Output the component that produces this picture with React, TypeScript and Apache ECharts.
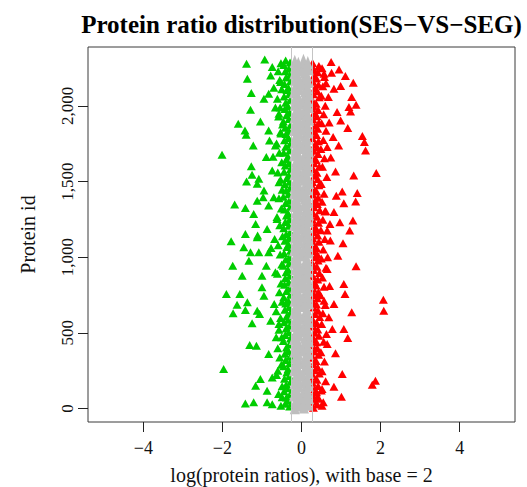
import React, { useEffect, useRef } from "react";
import * as echarts from "echarts";

const TITLE = "Protein ratio distribution(SES\u2212VS\u2212SEG)";
const X_NAME = "log(protein ratios), with base = 2";
const Y_NAME = "Protein id";
const X_TICKS = [-4, -2, 0, 2, 4];
const Y_TICKS = [0, 500, 1000, 1500, 2000];
const THRESHOLDS = [-0.263, 0.263];

// down-regulated proteins (green)
const greenOutliers: number[][] = [
  [-1.39, 2279], [-0.93, 2308], [-1.37, 2180], [-0.74, 2257], [-0.78, 2202], [-1.27, 2085], [-0.83, 2081],
  [-0.95, 2047], [-0.53, 2158], [-1.29, 1975], [-1.6, 1882], [-1.04, 1897], [-1.43, 1838], [-1.4, 1809],
  [-0.83, 1838], [-1.22, 1738], [-2.01, 1677], [-0.81, 1772], [-0.89, 1662], [-1.27, 1602], [-1.25, 1545],
  [-1.39, 1500], [-1.08, 1518], [-1.12, 1485], [-0.74, 1573], [-0.95, 1441], [-1.69, 1348], [-1.42, 1326],
  [-1.12, 1374], [-0.97, 1397], [-1.21, 1286], [-0.83, 1341], [-1.16, 1220], [-0.87, 1187], [-1.42, 1154],
  [-1.11, 1143], [-0.62, 1253], [-0.7, 1397], [-0.57, 1948], [-0.53, 1826], [-0.66, 1738], [-0.57, 1496],
  [-1.78, 1105], [-1.12, 1132], [-1.46, 1066], [-1.29, 1033], [-1.08, 1033], [-0.83, 1033], [-0.77, 1061],
  [-1.74, 944], [-1.33, 977], [-0.89, 944], [-0.66, 900], [-1.5, 878], [-1.0, 878], [-1.9, 757], [-1.56, 757],
  [-1.0, 801], [-0.95, 745], [-1.63, 686], [-1.37, 702], [-1.73, 629], [-1.42, 651], [-1.12, 646], [-1.06, 624],
  [-0.78, 580], [-1.25, 563], [-0.57, 558], [-1.31, 419], [-1.14, 414], [-0.83, 359], [-1.97, 260], [-0.6, 249],
  [-1.04, 194], [-1.16, 150], [-0.74, 205], [-0.87, 117], [-1.42, 33], [-1.21, 40], [-0.87, 40], [-0.74, 28],
  [-0.49, 73], [-0.7, 2120], [-0.66, 1990], [-0.72, 1665], [-0.68, 1120], [-0.64, 470], [-0.69, 690],
];
const greenInner: number[][] = [
  [-0.3, 12], [-0.33, 51], [-0.29, 94], [-0.32, 133], [-0.28, 176], [-0.31, 215], [-0.34, 259], [-0.3, 298],
  [-0.29, 341], [-0.33, 380], [-0.31, 423], [-0.28, 462], [-0.32, 505], [-0.3, 546], [-0.34, 587], [-0.29, 628],
  [-0.31, 670], [-0.33, 711], [-0.28, 752], [-0.3, 794], [-0.32, 835], [-0.29, 877], [-0.34, 918], [-0.31, 960],
  [-0.3, 1001], [-0.28, 1042], [-0.33, 1084], [-0.31, 1125], [-0.29, 1167], [-0.32, 1208], [-0.3, 1250],
  [-0.34, 1291], [-0.28, 1333], [-0.31, 1374], [-0.33, 1416], [-0.29, 1457], [-0.3, 1499], [-0.32, 1540],
  [-0.28, 1582], [-0.31, 1623], [-0.34, 1665], [-0.3, 1706], [-0.29, 1748], [-0.33, 1789], [-0.31, 1831],
  [-0.28, 1872], [-0.32, 1914], [-0.3, 1955], [-0.34, 1997], [-0.29, 2038], [-0.31, 2080], [-0.33, 2121],
  [-0.28, 2163], [-0.3, 2204], [-0.32, 2246], [-0.29, 2287],
];
const greenMid: number[][] = [
  [-0.41, 30], [-0.38, 72], [-0.44, 113], [-0.39, 155], [-0.43, 196], [-0.37, 238], [-0.45, 279], [-0.4, 320],
  [-0.42, 362], [-0.38, 403], [-0.46, 445], [-0.41, 486], [-0.39, 528], [-0.44, 569], [-0.37, 611], [-0.42, 652],
  [-0.4, 694], [-0.45, 735], [-0.38, 777], [-0.43, 818], [-0.41, 860], [-0.39, 901], [-0.46, 943], [-0.4, 984],
  [-0.44, 1026], [-0.37, 1067], [-0.42, 1109], [-0.39, 1150], [-0.45, 1192], [-0.41, 1233], [-0.38, 1275],
  [-0.43, 1316], [-0.4, 1358], [-0.46, 1399], [-0.39, 1441], [-0.42, 1482], [-0.37, 1524], [-0.44, 1565],
  [-0.41, 1607], [-0.38, 1648], [-0.45, 1690], [-0.4, 1731], [-0.43, 1773], [-0.39, 1814], [-0.41, 1856],
  [-0.46, 1897], [-0.38, 1939], [-0.42, 1980], [-0.4, 2022], [-0.44, 2063], [-0.37, 2105], [-0.43, 2146],
  [-0.39, 2188], [-0.41, 2229], [-0.45, 2271], [-0.4, 2300],
];
const greenOuter: number[][] = [
  [-0.52, 18], [-0.58, 95], [-0.49, 147], [-0.63, 221], [-0.51, 288], [-0.55, 336], [-0.6, 398], [-0.5, 471],
  [-0.57, 520], [-0.53, 598], [-0.64, 643], [-0.49, 705], [-0.56, 768], [-0.52, 826], [-0.61, 890], [-0.5, 951],
  [-0.54, 1017], [-0.59, 1079], [-0.48, 1138], [-0.55, 1212], [-0.62, 1265], [-0.51, 1322], [-0.57, 1389],
  [-0.49, 1446], [-0.53, 1512], [-0.6, 1560], [-0.5, 1627], [-0.56, 1690], [-0.63, 1752], [-0.52, 1818],
  [-0.48, 1877], [-0.58, 1930], [-0.54, 1990], [-0.61, 2047], [-0.5, 2110], [-0.55, 2171], [-0.59, 2230],
  [-0.52, 2283],
];

// up-regulated proteins (red)
const redOutliers: number[][] = [
  [0.75, 2290], [0.95, 2242], [0.76, 2220], [1.11, 2198], [0.57, 2213], [1.31, 2154], [0.82, 2114], [0.99, 2132],
  [1.27, 2059], [1.2, 1993], [1.38, 2008], [1.24, 1963], [0.9, 1960], [0.99, 1904], [1.17, 1854], [0.8, 1794],
  [0.94, 1738], [1.54, 1801], [1.59, 1761], [1.62, 1705], [0.65, 1728], [0.86, 1566], [1.32, 1540], [1.89, 1556],
  [1.03, 1434], [1.41, 1425], [0.88, 1407], [1.07, 1357], [1.37, 1368], [0.59, 1302], [0.82, 1298], [0.97, 1231],
  [1.3, 1242], [1.22, 1176], [0.72, 1220], [0.65, 1176], [1.05, 1092], [0.92, 1010], [1.38, 940], [0.65, 922],
  [1.07, 823], [1.1, 757], [0.82, 690], [2.07, 719], [2.08, 646], [1.27, 636], [1.07, 525], [1.17, 465],
  [0.78, 525], [0.86, 364], [1.03, 227], [1.87, 183], [1.79, 156], [0.82, 143], [1.01, 77], [0.52, 128],
  [0.52, 17], [0.4, 73], [0.73, 1110], [0.57, 712], [0.69, 602], [0.65, 426], [0.68, 2060], [0.7, 1890],
  [0.62, 2150], [0.74, 1660], [0.66, 1000], [0.71, 810],
];
const redInner: number[][] = [
  [0.3, 5], [0.32, 44], [0.29, 86], [0.33, 127], [0.28, 169], [0.31, 210], [0.34, 252], [0.3, 293], [0.29, 335],
  [0.32, 376], [0.28, 418], [0.31, 459], [0.33, 501], [0.3, 542], [0.29, 584], [0.34, 625], [0.31, 667],
  [0.28, 708], [0.32, 750], [0.3, 791], [0.33, 833], [0.29, 874], [0.31, 916], [0.28, 957], [0.34, 999],
  [0.3, 1040], [0.32, 1082], [0.29, 1123], [0.31, 1165], [0.33, 1206], [0.28, 1248], [0.3, 1289], [0.32, 1331],
  [0.34, 1372], [0.29, 1414], [0.31, 1455], [0.28, 1497], [0.33, 1538], [0.3, 1580], [0.32, 1621], [0.29, 1663],
  [0.31, 1704], [0.34, 1746], [0.28, 1787], [0.3, 1829], [0.33, 1870], [0.29, 1912], [0.32, 1953], [0.31, 1995],
  [0.28, 2036], [0.3, 2078], [0.34, 2119], [0.29, 2161], [0.32, 2202], [0.31, 2244], [0.28, 2285],
];
const redMid: number[][] = [
  [0.4, 25], [0.44, 63], [0.38, 106], [0.42, 148], [0.39, 189], [0.45, 231], [0.41, 272], [0.37, 314],
  [0.43, 355], [0.4, 397], [0.38, 438], [0.44, 480], [0.41, 521], [0.39, 563], [0.46, 604], [0.42, 646],
  [0.38, 687], [0.4, 729], [0.43, 770], [0.37, 812], [0.41, 853], [0.45, 895], [0.39, 936], [0.42, 978],
  [0.4, 1019], [0.38, 1061], [0.44, 1102], [0.41, 1144], [0.37, 1185], [0.43, 1227], [0.39, 1268], [0.46, 1310],
  [0.4, 1351], [0.42, 1393], [0.38, 1434], [0.44, 1476], [0.41, 1517], [0.39, 1559], [0.45, 1600], [0.37, 1642],
  [0.42, 1683], [0.4, 1725], [0.43, 1766], [0.38, 1808], [0.41, 1849], [0.44, 1891], [0.39, 1932], [0.42, 1974],
  [0.37, 2015], [0.45, 2057], [0.4, 2098], [0.43, 2140], [0.38, 2181], [0.41, 2223], [0.44, 2264],
];
const redOuter: number[][] = [
  [0.55, 40], [0.5, 118], [0.61, 180], [0.52, 245], [0.58, 310], [0.49, 372], [0.56, 440], [0.63, 492],
  [0.51, 558], [0.54, 630], [0.6, 684], [0.48, 748], [0.57, 804], [0.53, 866], [0.62, 930], [0.5, 992],
  [0.55, 1050], [0.59, 1120], [0.49, 1178], [0.54, 1248], [0.61, 1306], [0.52, 1366], [0.57, 1420], [0.5, 1484],
  [0.64, 1530], [0.53, 1598], [0.58, 1655], [0.49, 1716], [0.55, 1775], [0.62, 1836], [0.51, 1886], [0.56, 1946],
  [0.6, 2002], [0.5, 2068], [0.54, 2130], [0.58, 2192], [0.52, 2250],
];

// unchanged proteins (gray)
const grayA: number[][] = [
  [-0.17, 4], [-0.15, 47], [-0.19, 88], [-0.16, 131], [-0.18, 170], [-0.14, 214], [-0.19, 255], [-0.16, 297],
  [-0.15, 339], [-0.18, 380], [-0.16, 424], [-0.19, 463], [-0.14, 507], [-0.17, 549], [-0.16, 590], [-0.19, 633],
  [-0.15, 672], [-0.18, 716], [-0.16, 757], [-0.17, 799], [-0.19, 842], [-0.14, 881], [-0.16, 925], [-0.18, 966],
  [-0.15, 1008], [-0.19, 1049], [-0.16, 1092], [-0.17, 1133], [-0.14, 1176], [-0.19, 1216], [-0.16, 1259],
  [-0.15, 1300], [-0.18, 1342], [-0.16, 1385], [-0.19, 1426], [-0.17, 1468], [-0.15, 1509], [-0.18, 1551],
  [-0.16, 1594], [-0.14, 1635], [-0.19, 1677], [-0.16, 1718], [-0.17, 1761], [-0.15, 1802], [-0.19, 1844],
  [-0.16, 1886], [-0.18, 1927], [-0.14, 1970], [-0.17, 2011], [-0.16, 2053], [-0.19, 2094], [-0.15, 2137],
  [-0.16, 2178], [-0.18, 2220], [-0.16, 2262], [-0.17, 2296],
];
const grayB: number[][] = [
  [-0.07, 22], [-0.05, 66], [-0.09, 107], [-0.06, 150], [-0.08, 191], [-0.04, 233], [-0.1, 276], [-0.06, 318],
  [-0.08, 359], [-0.05, 402], [-0.09, 443], [-0.07, 486], [-0.04, 528], [-0.08, 569], [-0.06, 611], [-0.1, 652],
  [-0.05, 695], [-0.07, 737], [-0.09, 778], [-0.06, 820], [-0.08, 862], [-0.04, 903], [-0.07, 946], [-0.1, 987],
  [-0.05, 1029], [-0.08, 1071], [-0.06, 1112], [-0.09, 1155], [-0.07, 1196], [-0.04, 1238], [-0.08, 1280],
  [-0.06, 1321], [-0.1, 1364], [-0.05, 1405], [-0.07, 1447], [-0.09, 1489], [-0.06, 1530], [-0.08, 1573],
  [-0.04, 1614], [-0.07, 1656], [-0.1, 1698], [-0.05, 1739], [-0.08, 1782], [-0.06, 1823], [-0.09, 1865],
  [-0.07, 1907], [-0.04, 1948], [-0.08, 1991], [-0.06, 2032], [-0.1, 2074], [-0.05, 2116], [-0.07, 2157],
  [-0.09, 2199], [-0.06, 2241], [-0.08, 2282],
];
const grayC: number[][] = [
  [0.06, 9], [0.08, 52], [0.05, 93], [0.09, 136], [0.07, 177], [0.04, 219], [0.08, 262], [0.06, 303], [0.1, 345],
  [0.05, 386], [0.07, 429], [0.09, 470], [0.04, 513], [0.08, 554], [0.06, 596], [0.1, 637], [0.05, 680],
  [0.07, 721], [0.09, 764], [0.06, 805], [0.04, 847], [0.08, 889], [0.07, 930], [0.1, 973], [0.05, 1014],
  [0.06, 1056], [0.09, 1098], [0.04, 1139], [0.08, 1182], [0.07, 1223], [0.05, 1265], [0.1, 1307], [0.06, 1348],
  [0.08, 1391], [0.04, 1432], [0.09, 1474], [0.07, 1516], [0.05, 1557], [0.1, 1600], [0.06, 1641], [0.08, 1683],
  [0.04, 1725], [0.07, 1766], [0.09, 1809], [0.05, 1850], [0.06, 1892], [0.1, 1934], [0.08, 1975], [0.04, 2018],
  [0.07, 2059], [0.09, 2101], [0.05, 2143], [0.06, 2184], [0.08, 2226], [0.07, 2268], [0.05, 2303],
];
const grayD: number[][] = [
  [0.17, 27], [0.19, 70], [0.16, 112], [0.18, 155], [0.15, 196], [0.19, 239], [0.17, 281], [0.14, 322],
  [0.18, 364], [0.16, 407], [0.19, 448], [0.17, 490], [0.15, 533], [0.18, 574], [0.16, 616], [0.14, 658],
  [0.19, 699], [0.16, 742], [0.17, 783], [0.19, 825], [0.15, 867], [0.16, 908], [0.18, 951], [0.14, 992],
  [0.17, 1034], [0.16, 1076], [0.19, 1117], [0.16, 1160], [0.15, 1201], [0.18, 1243], [0.19, 1285], [0.16, 1326],
  [0.17, 1369], [0.14, 1410], [0.16, 1452], [0.19, 1494], [0.15, 1535], [0.17, 1578], [0.16, 1619], [0.18, 1661],
  [0.19, 1703], [0.16, 1744], [0.14, 1787], [0.17, 1828], [0.16, 1870], [0.19, 1912], [0.15, 1953], [0.18, 1996],
  [0.16, 2037], [0.19, 2079], [0.16, 2121], [0.17, 2162], [0.14, 2205], [0.18, 2246], [0.16, 2287],
];

const FONT = '"Liberation Serif", "Times New Roman", serif';
const GREEN = "#00CD00";
const RED = "#FF0000";
const GRAY = "#BEBEBE";

const fmtX = (v: number) => (v < 0 ? "\u2212" + Math.abs(v) : String(v));
const fmtY = (v: number) => Math.round(v).toLocaleString("en-US");

export default function App() {
  const ref = useRef<HTMLDivElement>(null);
  useEffect(() => {
    if (!ref.current) return;
    const chart = echarts.init(ref.current, undefined, { renderer: "svg" });
    const sym = { symbol: "triangle", symbolSize: [9, 8] };
    chart.setOption({
      animation: false,
      backgroundColor: "#ffffff",
      grid: {
        left: 88,
        right: 12,
        top: 47,
        bottom: 65,
        show: true,
        borderColor: "#3a3a3a",
        borderWidth: 1,
        containLabel: false,
        outerBoundsMode: "none",
      },
      graphic: [
        {
          type: "text",
          x: 301.5,
          y: 24,
          style: {
            text: TITLE,
            align: "center",
            verticalAlign: "middle",
            font: `bold 25px ${FONT}`,
            fill: "#000",
          },
        },
      ],
      xAxis: {
        type: "value",
        min: -5.4,
        max: 5.4,
        splitLine: { show: false },
        axisLine: { show: false, onZero: false },
        axisTick: { show: true, length: 10, customValues: X_TICKS, lineStyle: { color: "#222", width: 1 } },
        axisLabel: { customValues: X_TICKS, formatter: fmtX, fontSize: 18, fontFamily: FONT, color: "#111", margin: 17 },
        name: X_NAME,
        nameLocation: "middle",
        nameGap: 43,
        nameTextStyle: { fontSize: 20, fontFamily: FONT, color: "#111" },
      },
      yAxis: {
        type: "value",
        min: -90,
        max: 2390,
        splitLine: { show: false },
        axisLine: { show: false, onZero: false },
        axisTick: { show: true, length: 10, customValues: Y_TICKS, lineStyle: { color: "#222", width: 1 } },
        axisLabel: {
          customValues: Y_TICKS,
          formatter: fmtY,
          rotate: 90,
          align: "center",
          verticalAlign: "bottom",
          fontSize: 17,
          fontFamily: FONT,
          color: "#111",
          margin: 12,
        },
        name: Y_NAME,
        nameLocation: "middle",
        nameGap: 50,
        nameRotate: 90,
        nameTextStyle: { fontSize: 20, fontFamily: FONT, color: "#111" },
      },
      series: [
        {
          type: "scatter",
          ...sym,
          itemStyle: { color: GREEN, opacity: 1 },
          data: [...greenInner, ...greenMid, ...greenOuter, ...greenOutliers],
        },
        {
          type: "scatter",
          ...sym,
          itemStyle: { color: RED, opacity: 1 },
          data: [...redInner, ...redMid, ...redOuter, ...redOutliers],
        },
        {
          type: "scatter",
          symbol: "triangle",
          symbolSize: [10, 13],
          itemStyle: { color: GRAY, opacity: 1 },
          data: [...grayA, ...grayB, ...grayC, ...grayD],
          markLine: {
            silent: true,
            symbol: "none",
            label: { show: false },
            lineStyle: { color: "#c4c4c4", type: "solid", width: 1 },
            data: THRESHOLDS.map((t) => ({ xAxis: t })),
          },
        },
      ],
    });
    return () => chart.dispose();
  }, []);
  return <div ref={ref} style={{ position: "fixed", left: 0, top: 0, width: 527, height: 487 }} />;
}
